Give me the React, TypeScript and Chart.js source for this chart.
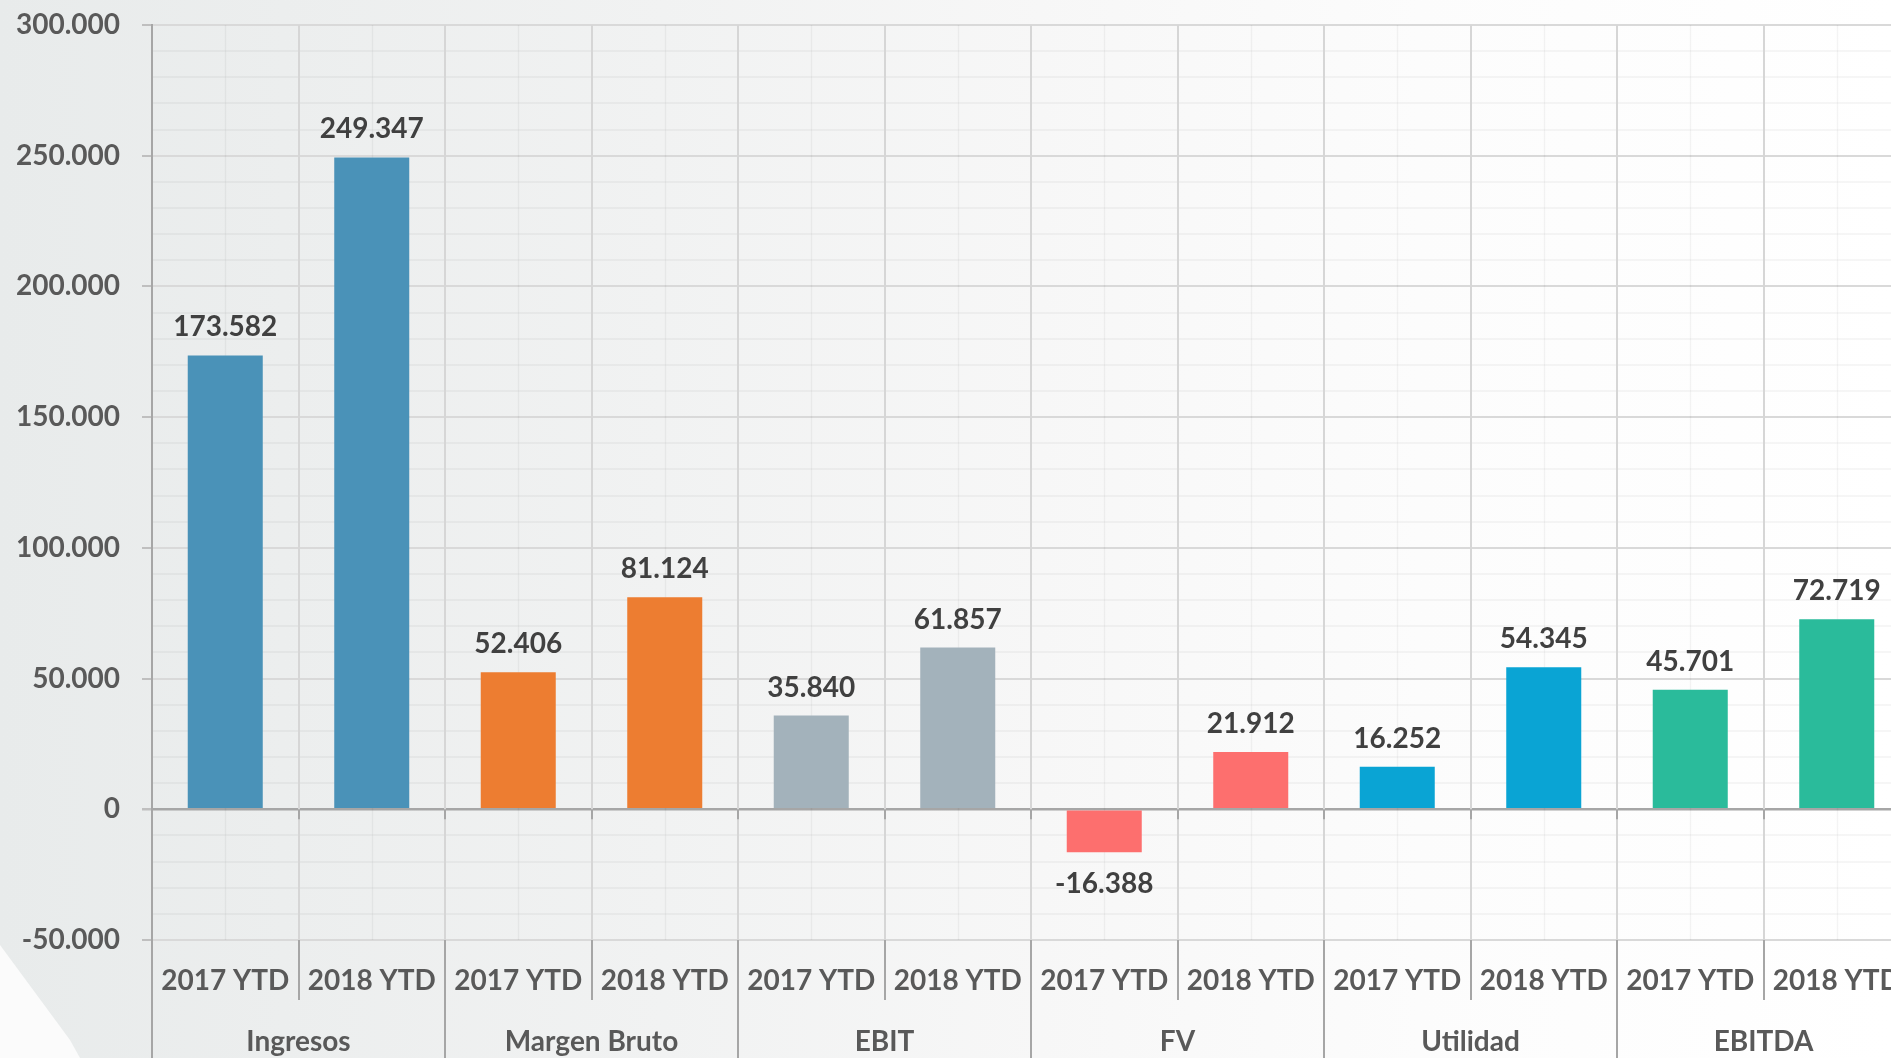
import React, { useEffect, useRef } from "react";
import { Chart, registerables } from "chart.js";

Chart.register(...registerables);

const xLabels = [
  "2017 YTD", "2018 YTD", "2017 YTD", "2018 YTD", "2017 YTD", "2018 YTD",
  "2017 YTD", "2018 YTD", "2017 YTD", "2018 YTD", "2017 YTD", "2018 YTD",
];
const groups = ["Ingresos", "Margen Bruto", "EBIT", "FV", "Utilidad", "EBITDA"];
const values = [173582, 249347, 52406, 81124, 35840, 61857, -16388, 21912, 16252, 54345, 45701, 72719];
const groupColors = ["#4a92b8", "#ed7d31", "#a3b2bb", "#fd6f6e", "#0aa4d4", "#2abb9b"];
const yMin = -50000;
const yMax = 300000;
const yStep = 10000;
const yMajor = 50000;

const fmt = (v: number) => {
  const s = Math.abs(Math.round(v)).toString().replace(/\B(?=(\d{3})+(?!\d))/g, ".");
  return (v < 0 ? "-" : "") + s;
};

const FONT = "bold 28px Lato";

const extrasPlugin = {
  id: "extras",
  beforeDatasetsDraw(chart: any) {
    const { ctx, chartArea } = chart;
    const x = chart.scales.x;
    const y = chart.scales.y;
    ctx.save();
    ctx.strokeStyle = "rgba(0,0,0,0.045)";
    ctx.lineWidth = 1.5;
    for (let i = 0; i < xLabels.length; i++) {
      const px = Math.round(x.getPixelForValue(i)) + 0.5;
      ctx.beginPath();
      ctx.moveTo(px, chartArea.top);
      ctx.lineTo(px, chartArea.bottom);
      ctx.stroke();
    }
    const zy = y.getPixelForValue(0);
    ctx.strokeStyle = "#a6a6a6";
    ctx.lineWidth = 2;
    for (let i = 0; i <= xLabels.length; i++) {
      const px = Math.round(x.getPixelForValue(i - 0.5));
      ctx.beginPath();
      ctx.moveTo(px, zy);
      ctx.lineTo(px, zy + 10);
      ctx.stroke();
    }
    ctx.restore();
  },
  afterDatasetsDraw(chart: any) {
    const { ctx } = chart;
    const meta = chart.getDatasetMeta(0);
    ctx.save();
    ctx.font = FONT;
    ctx.fillStyle = "#404040";
    ctx.textAlign = "center";
    ctx.textBaseline = "alphabetic";
    meta.data.forEach((el: any, i: number) => {
      const v = values[i];
      const t = fmt(v);
      if (v >= 0) ctx.fillText(t, el.x, el.y - 19);
      else ctx.fillText(t, el.x, el.y + 41);
    });
    ctx.restore();
  },
};

export default function App() {
  const ref = useRef<HTMLCanvasElement | null>(null);
  useEffect(() => {
    if (!ref.current) return;
    Chart.defaults.font.family = "Lato";
    const chart = new Chart(ref.current, {
      type: "bar",
      data: {
        labels: xLabels,
        datasets: [
          {
            data: values,
            backgroundColor: values.map((_, i) => groupColors[Math.floor(i / 2)]),
            barPercentage: 0.512,
            categoryPercentage: 1,
          },
        ],
      },
      options: {
        responsive: false,
        animation: false,
        devicePixelRatio: 1,
        layout: { padding: { top: 25, right: 20, left: 0, bottom: 0 } },
        plugins: { legend: { display: false }, tooltip: { enabled: false } },
        scales: {
          y: {
            min: yMin,
            max: yMax,
            afterFit: (s: any) => {
              s.width = 152;
              s.paddingTop = 0;
              s.paddingBottom = 0;
            },
            ticks: {
              stepSize: yStep,
              autoSkip: false,
              padding: 22,
              color: "#595959",
              font: { size: 28, weight: "bold", family: "Lato" },
              callback: (v: any) => (Number(v) % yMajor === 0 ? fmt(Number(v)) : ""),
            },
            grid: {
              color: (c: any) =>
                c.tick && c.tick.value === 0
                  ? "#a6a6a6"
                  : c.tick && c.tick.value % yMajor === 0
                  ? "#d9d9d9"
                  : "rgba(0,0,0,0.035)",
              lineWidth: (c: any) => (c.tick && c.tick.value === 0 ? 2.5 : 2),
              tickColor: (c: any) =>
                c.tick && c.tick.value % yMajor === 0 ? "#bfbfbf" : "rgba(0,0,0,0)",
              tickLength: 10,
            },
            border: { color: "#a6a6a6", width: 2 },
          },
          x: {
            weight: 0,
            afterFit: (s: any) => {
              s.height = 60;
            },
            ticks: {
              autoSkip: false,
              maxRotation: 0,
              padding: -36,
              color: "#595959",
              font: { size: 28, weight: "bold", family: "Lato" },
            },
            grid: {
              offset: true,
              color: "#d6d6d6",
              lineWidth: 2,
              tickColor: "#a6a6a6",
              tickLength: 60,
            },
            border: { display: false },
          },
          x2: {
            type: "category",
            labels: groups,
            position: "bottom",
            offset: true,
            weight: 1,
            afterFit: (s: any) => {
              s.height = 100;
            },
            ticks: {
              autoSkip: false,
              maxRotation: 0,
              padding: -75,
              color: "#595959",
              font: { size: 28, weight: "bold", family: "Lato" },
            },
            grid: {
              offset: true,
              drawOnChartArea: false,
              tickColor: "#a6a6a6",
              lineWidth: 2,
              tickLength: 100,
            },
            border: { display: false },
          },
        },
      },
      plugins: [extrasPlugin],
    } as any);
    return () => chart.destroy();
  }, []);

  return (
    <div
      style={{
        position: "fixed",
        left: 0,
        top: 0,
        width: 1891,
        height: 1058,
        overflow: "hidden",
        background:
          "linear-gradient(90deg, #e8ebeb 0%, #eceeee 15%, #f1f2f2 35%, #f7f7f7 55%, #fcfcfc 75%, #ffffff 100%)",
      }}
    >
      <div
        style={{
          position: "absolute",
          left: 0,
          top: 0,
          width: 1891,
          height: 1058,
          background: "#fbfbfb",
          clipPath: "polygon(0px 945px, 70px 1040px, 80px 1058px, 0px 1058px)",
        }}
      />
      <canvas
        ref={ref}
        width={1930}
        height={1100}
        style={{ position: "absolute", left: 0, top: 0, width: 1930, height: 1100 }}
      />
    </div>
  );
}
